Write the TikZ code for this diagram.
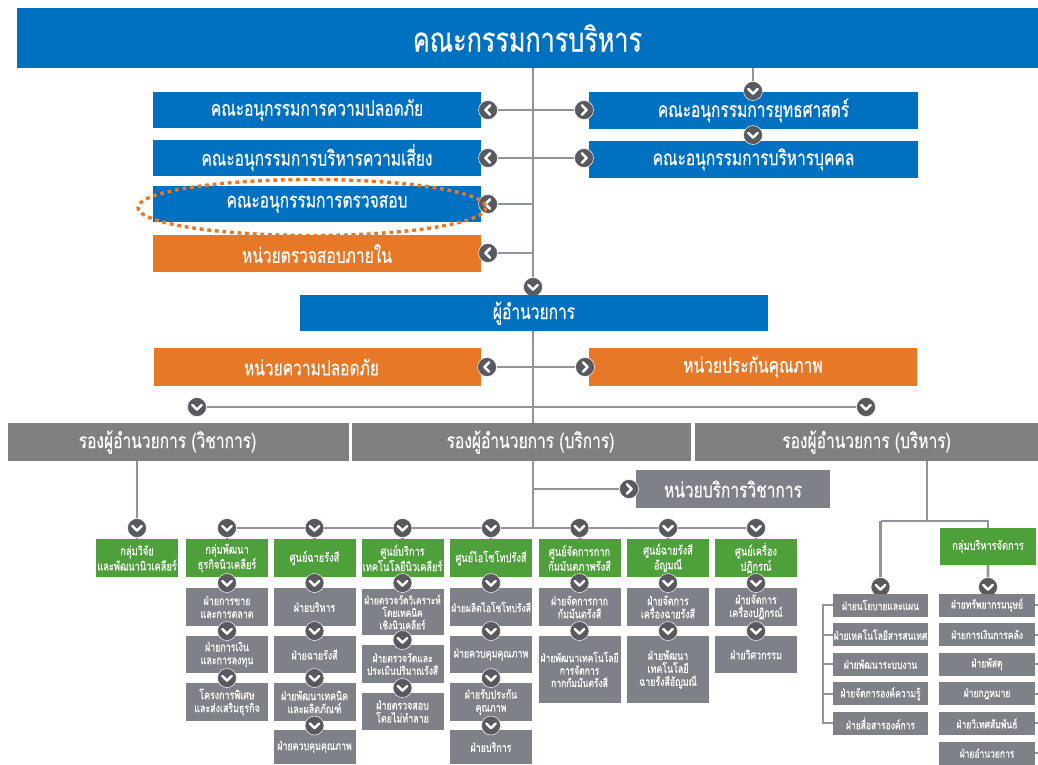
\documentclass[tikz,border=0pt]{standalone}
\usepackage{fontspec}
\setmainfont[Script=Thai]{Loma}
\newfontfamily\thaic[Script=Thai,FakeStretch=0.74,FakeBold=0.4]{Loma}
\usetikzlibrary{backgrounds}

\definecolor{tiblue}{RGB}{0,112,192}
\definecolor{tiorange}{RGB}{230,120,40}
\definecolor{tigreen}{RGB}{78,160,58}
\definecolor{tigray}{RGB}{126,129,135}
\definecolor{tirow}{RGB}{128,128,130}
\definecolor{tiline}{RGB}{145,148,153}
\definecolor{tidark}{RGB}{88,90,95}

\tikzset{
  box/.style={rectangle, inner sep=0pt, text=white, align=center},
  bluebox/.style={box, fill=tiblue},
  orangebox/.style={box, fill=tiorange},
  greenbox/.style={box, fill=tigreen},
  graybox/.style={box, fill=tigray},
  rowbox/.style={box, fill=tirow},
  bigfont/.style={font=\thaic\fontsize{21}{24}\selectfont},
  sub/.style={bigfont, minimum width=328pt, minimum height=36pt},
  unit/.style={greenbox, minimum width=82pt, minimum height=38pt,
    font=\thaic\fontsize{12.5}{13.5}\selectfont},
  dept/.style={graybox, minimum width=82pt, font=\thaic\fontsize{12}{13}\selectfont},
  adm/.style={graybox, minimum height=23pt, font=\thaic\fontsize{11.5}{12.5}\selectfont},
  conn/.style={draw=tiline, line width=2.6pt},
  knob/.style={circle, fill=tidark, draw=white, line width=0.5pt,
    minimum size=19pt, inner sep=0pt},
  chev/.style={white, line width=2.6pt, line cap=round, line join=round},
  kdown/.style={knob, path picture={\draw[chev]
    ([shift={(-4.6pt,2pt)}]path picture bounding box.center) -- ++(4.6pt,-4.6pt) -- ++(4.6pt,4.6pt);}},
  kleft/.style={knob, path picture={\draw[chev]
    ([shift={(2pt,4.6pt)}]path picture bounding box.center) -- ++(-4.6pt,-4.6pt) -- ++(4.6pt,-4.6pt);}},
  kright/.style={knob, path picture={\draw[chev]
    ([shift={(-2pt,4.6pt)}]path picture bounding box.center) -- ++(4.6pt,-4.6pt) -- ++(-4.6pt,-4.6pt);}},
}

\begin{document}
\begin{tikzpicture}[x=1pt,y=-1pt]
\useasboundingbox (0,0) rectangle (1038,764);

% ---------- board and committees ----------
\node[bluebox, minimum width=1021pt, minimum height=60pt,
      font=\thaic\fontsize{34}{38}\selectfont] (board) at (527.5,38) {คณะกรรมการบริหาร};

\node[bluebox, sub] (safety) at (317,110) {คณะอนุกรรมการความปลอดภัย};
\node[bluebox, sub] (risk) at (317,157.5) {คณะอนุกรรมการบริหารความเสี่ยง};
\node[bluebox, sub] (audit) at (317,204) {คณะอนุกรรมการตรวจสอบ};
\node[orangebox, sub, minimum height=37pt] (internal) at (317,253.5) {หน่วยตรวจสอบภายใน};
\node[bluebox, sub, minimum width=329pt, minimum height=37pt] (strategy) at (753.5,110.5) {คณะอนุกรรมการยุทธศาสตร์};
\node[bluebox, sub, minimum width=329pt, minimum height=37pt] (hr) at (753.5,159.5) {คณะอนุกรรมการบริหารบุคคล};

\node[kleft] (k1) at (488,110) {};
\node[kleft] (k2) at (488,158) {};
\node[kleft] (k3) at (488,204) {};
\node[kleft] (k4) at (488,253) {};
\node[kright] (k5) at (584,110) {};
\node[kright] (k6) at (584,158) {};
\node[kdown] (k7) at (753,91) {};
\node[kdown] (k8) at (753,135) {};
\node[kdown] (kdir) at (533,287) {};

% ---------- director level ----------
\node[bluebox, bigfont, minimum width=468pt, minimum height=36pt] (dir) at (534,313) {ผู้อำนวยการ};
\node[orangebox, minimum width=327pt, minimum height=38pt,
      label={[bigfont, text=white, xshift=-6pt]center:หน่วยความปลอดภัย}] (safeunit) at (317.5,367) {};
\node[orangebox, bigfont, minimum width=328pt, minimum height=38pt] (qa) at (753,367) {หน่วยประกันคุณภาพ};
\node[kleft] (k9) at (487,367) {};
\node[kright] (k10) at (585,367) {};
\node[kdown] (k11) at (197,407) {};
\node[kdown] (k12) at (866,407) {};

\node[rowbox, minimum width=341pt, minimum height=38pt,
      label={[bigfont, text=white, xshift=-11pt]center:รองผู้อำนวยการ (วิชาการ)}] (vpa) at (178.5,442) {};
\node[rowbox, minimum width=339pt, minimum height=38pt,
      label={[bigfont, text=white, xshift=9pt]center:รองผู้อำนวยการ (บริการ)}] (vps) at (521.5,442) {};
\node[rowbox, bigfont, minimum width=343pt, minimum height=38pt] (vpm) at (866.5,442) {รองผู้อำนวยการ (บริหาร)};

\node[graybox, bigfont, minimum width=194pt, minimum height=38pt] (acad) at (733,489) {หน่วยบริการวิชาการ};
\node[kright] (ka) at (629,489) {};

% ---------- centres and groups ----------
\node[kdown] (kb1) at (137,528) {};
\node[kdown] (kb2) at (227,528) {};
\node[kdown] (kb3) at (314.5,528) {};
\node[kdown] (kb4) at (402.5,528) {};
\node[kdown] (kb5) at (491,528) {};
\node[kdown] (kb6) at (579.5,528) {};
\node[kdown] (kb7) at (668,528) {};
\node[kdown] (kb8) at (756,528) {};
\coordinate (tb) at (533,528);

\node[unit] (u1) at (137,558) {กลุ่มวิจัย\\และพัฒนานิวเคลียร์};
\node[unit] (u2) at (227,558) {กลุ่มพัฒนา\\ธุรกิจนิวเคลียร์};
\node[unit] (u3) at (314.5,558) {ศูนย์ฉายรังสี};
\node[unit] (u4) at (402.5,558) {ศูนย์บริการ\\เทคโนโลยีนิวเคลียร์};
\node[unit] (u5) at (491,558) {ศูนย์ไอโซโทปรังสี};
\node[unit] (u6) at (579.5,558) {ศูนย์จัดการกาก\\กัมมันตภาพรังสี};
\node[unit] (u7) at (668,558) {ศูนย์ฉายรังสี\\อัญมณี};
\node[unit] (u8) at (756,558) {ศูนย์เครื่อง\\ปฏิกรณ์};

% business development
\node[dept, minimum height=38pt] (d21) at (227,607) {ฝ่ายการขาย\\และการตลาด};
\node[dept, minimum height=37pt] (d22) at (227,654.5) {ฝ่ายการเงิน\\และการลงทุน};
\node[dept, minimum height=38pt] (d23) at (227,702) {โครงการพิเศษ\\และส่งเสริมธุรกิจ};
\node[kdown] (c21) at (227,583) {};
\node[kdown] (c22) at (227,631) {};
\node[kdown] (c23) at (227,678) {};

% irradiation centre
\node[dept, minimum height=38pt] (d31) at (314.5,607) {ฝ่ายบริหาร};
\node[dept, minimum height=37pt] (d32) at (314.5,654.5) {ฝ่ายฉายรังสี};
\node[dept, minimum height=38pt] (d33) at (314.5,702) {ฝ่ายพัฒนาเทคนิค\\และผลิตภัณฑ์};
\node[dept, minimum height=34pt] (d34) at (314.5,747) {ฝ่ายควบคุมคุณภาพ};
\node[kdown] (c31) at (314.5,583) {};
\node[kdown] (c32) at (314.5,631) {};
\node[kdown] (c33) at (314.5,678) {};
\node[kdown] (c34) at (314.5,725.5) {};

% nuclear technology service centre
\node[dept, minimum height=46pt, font=\thaic\fontsize{11.3}{12.5}\selectfont] (d41) at (402.5,612)
  {ฝ่ายตรวจวัดวิเคราะห์\\โดยเทคนิค\\เชิงนิวเคลียร์};
\node[dept, minimum height=38pt, font=\thaic\fontsize{11.5}{12.5}\selectfont] (d42) at (402.5,664)
  {ฝ่ายตรวจวัดและ\\ประเมินปริมาณรังสี};
\node[dept, minimum height=37pt] (d43) at (402.5,711.5) {ฝ่ายตรวจสอบ\\โดยไม่ทำลาย};
\node[kdown] (c41) at (402.5,583) {};
\node[kdown] (c42) at (402.5,640) {};
\node[kdown] (c43) at (402.5,688) {};

% isotope centre
\node[dept, minimum height=38pt, font=\thaic\fontsize{11.5}{12.5}\selectfont] (d51) at (491,607) {ฝ่ายผลิตไอโซโทปรังสี};
\node[dept, minimum height=37pt] (d52) at (491,654.5) {ฝ่ายควบคุมคุณภาพ};
\node[dept, minimum height=38pt] (d53) at (491,702) {ฝ่ายรับประกัน\\คุณภาพ};
\node[dept, minimum height=34pt] (d54) at (491,747) {ฝ่ายบริการ};
\node[kdown] (c51) at (491,583) {};
\node[kdown] (c52) at (491,631) {};
\node[kdown] (c53) at (491,678) {};
\node[kdown] (c54) at (491,725.5) {};

% radioactive waste centre
\node[dept, minimum height=38pt] (d61) at (579.5,607) {ฝ่ายจัดการกาก\\กัมมันตรังสี};
\node[dept, minimum height=67pt, font=\thaic\fontsize{11.5}{12.5}\selectfont] (d62) at (579.5,669.5)
  {ฝ่ายพัฒนาเทคโนโลยี\\การจัดการ\\กากกัมมันตรังสี};
\node[kdown] (c61) at (579.5,583) {};
\node[kdown] (c62) at (579.5,631) {};

% gem irradiation centre
\node[dept, minimum height=38pt] (d71) at (668,607) {ฝ่ายจัดการ\\เครื่องฉายรังสี};
\node[dept, minimum height=67pt] (d72) at (668,669.5) {ฝ่ายพัฒนา\\เทคโนโลยี\\ฉายรังสีอัญมณี};
\node[kdown] (c71) at (668,583) {};
\node[kdown] (c72) at (668,631) {};

% reactor centre
\node[dept, minimum height=38pt] (d81) at (756,607) {ฝ่ายจัดการ\\เครื่องปฏิกรณ์};
\node[dept, minimum height=37pt] (d82) at (756,654.5) {ฝ่ายวิศวกรรม};
\node[kdown] (c81) at (756,583) {};
\node[kdown] (c82) at (756,631) {};

% ---------- administration side ----------
\coordinate (rj) at (927,521);
\node[greenbox, minimum width=96pt, minimum height=37pt,
      font=\thaic\fontsize{12.5}{13.5}\selectfont] (mg) at (988,546.5) {กลุ่มบริหารจัดการ};
\node[kdown] (kl0) at (880.5,587) {};
\node[kdown] (kr0) at (988,587) {};

\node[adm, minimum width=95pt] (l1) at (880.5,605) {ฝ่ายนโยบายและแผน};
\node[adm, minimum width=95pt] (l2) at (880.5,634.6) {ฝ่ายเทคโนโลยีสารสนเทศ};
\node[adm, minimum width=95pt] (l3) at (880.5,664.2) {ฝ่ายพัฒนาระบบงาน};
\node[adm, minimum width=95pt] (l4) at (880.5,693.8) {ฝ่ายจัดการองค์ความรู้};
\node[adm, minimum width=95pt] (l5) at (880.5,723.4) {ฝ่ายสื่อสารองค์การ};
\coordinate (br) at (823,605);

\node[adm, minimum width=96pt] (r1) at (987,605) {ฝ่ายทรัพยากรมนุษย์};
\node[adm, minimum width=96pt] (r2) at (987,634.6) {ฝ่ายการเงินการคลัง};
\node[adm, minimum width=96pt] (r3) at (987,664.2) {ฝ่ายพัสดุ};
\node[adm, minimum width=96pt] (r4) at (987,693.8) {ฝ่ายกฎหมาย};
\node[adm, minimum width=96pt] (r5) at (987,723.4) {ฝ่ายวิเทศสัมพันธ์};
\node[adm, minimum width=96pt] (r6) at (987,753) {ฝ่ายอำนวยการ};
\coordinate (edge) at (1038,605);

% ---------- connectors ----------
\begin{scope}[on background layer]
  \fill[white] (0,0) rectangle (1038,764);
  \draw[conn] (board.south -| kdir) -- (kdir);
  \draw[conn] (board.south -| k7) -- (k7) -- (k8);
  \draw[conn] (k1) -- (k5);
  \draw[conn] (k2) -- (k6);
  \draw[conn] (k3) -- (k3 -| kdir);
  \draw[conn] (k4) -- (k4 -| kdir);
  \draw[conn] (dir.south -| kdir) -- (tb);
  \draw[conn] (k9) -- (k10);
  \draw[conn] (k11) -- (k12);
  \draw[conn] (ka -| tb) -- (ka);
  \draw[conn] (vpa.south -| kb1) -- (kb1);
  \draw[conn] (kb2) -- (kb8);
  \foreach \k/\u in {kb1/u1,kb2/u2,kb3/u3,kb4/u4,kb5/u5,kb6/u6,kb7/u7,kb8/u8}
    \draw[conn] (\k) -- (\u);
  \foreach \a/\c/\b in {u2/c21/d21,d21/c22/d22,d22/c23/d23,
      u3/c31/d31,d31/c32/d32,d32/c33/d33,d33/c34/d34,
      u4/c41/d41,d41/c42/d42,d42/c43/d43,
      u5/c51/d51,d51/c52/d52,d52/c53/d53,d53/c54/d54,
      u6/c61/d61,d61/c62/d62,u7/c71/d71,d71/c72/d72,u8/c81/d81,d81/c82/d82}
    \draw[conn] (\a) -- (\c) -- (\b);
  % administration branch
  \draw[conn] (vpm.south -| rj) -- (rj);
  \draw[conn] (kl0 |- rj) -- (mg.north |- rj) -- (mg.north);
  \draw[conn] (kl0 |- rj) -- (kl0) -- (l1);
  \draw[conn] (mg) -- (kr0) -- (r1);
  \draw[conn, line width=2pt] (l1.west) -- (l1.west -| br) -- (l5.west -| br) -- (l5.west);
  \foreach \n in {l2,l3,l4}
    \draw[conn, line width=2pt] (\n.west -| br) -- (\n.west);
  \foreach \n in {r1,r2,r3,r4,r5,r6}
    \draw[conn, line width=2pt] (\n.east) -- (\n.east -| edge);
\end{scope}

% dotted highlight around the audit committee
\draw[tiorange, line width=3.4pt, dash pattern=on 3.8pt off 3.8pt]
  (312,207.5) ellipse [x radius=174, y radius=28];
\end{tikzpicture}
\end{document}
